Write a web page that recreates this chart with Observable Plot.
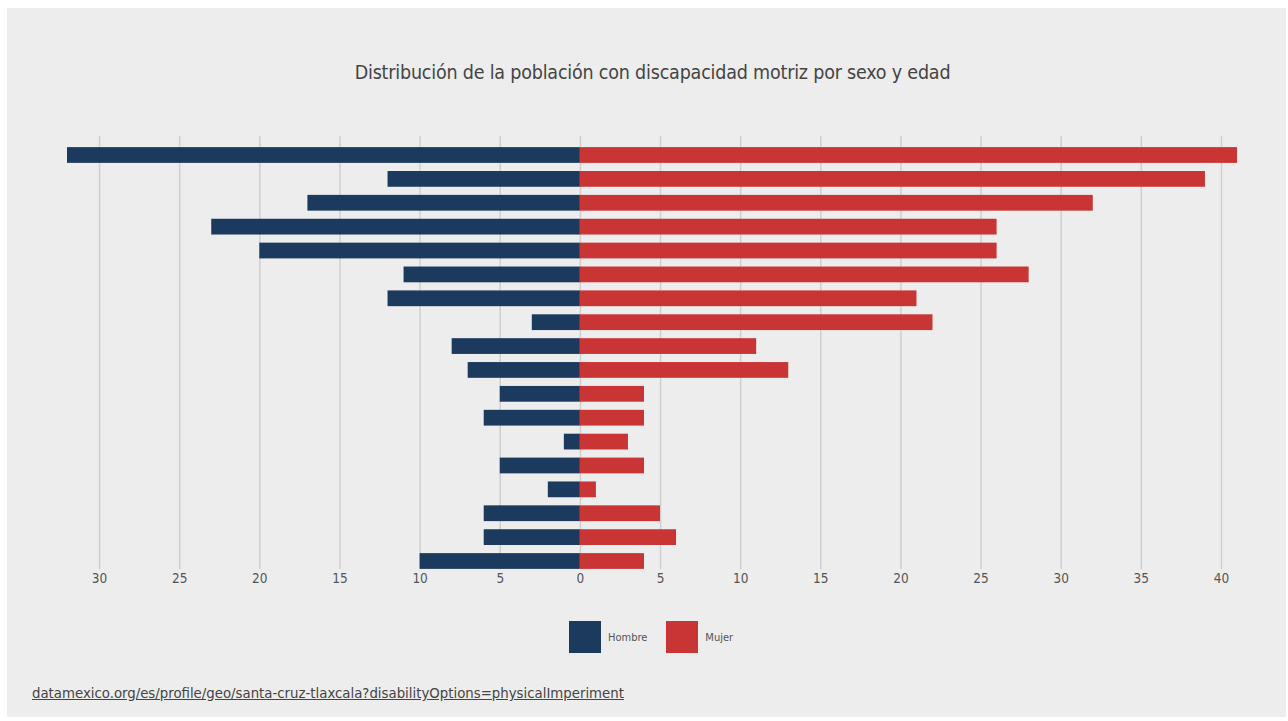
<!DOCTYPE html>
<html>
<head>
<meta charset="utf-8">
<script src="https://cdn.jsdelivr.net/npm/d3@7"></script>
<script src="https://cdn.jsdelivr.net/npm/@observablehq/plot@0.6"></script>
<style>
  html, body { margin: 0; padding: 0; background: #ffffff; }
  body { width: 1288px; height: 721px; position: relative; overflow: hidden; font-family: "DejaVu Sans Condensed", "Liberation Sans Narrow", sans-serif; }
  #panel { position: absolute; left: 7px; top: 8px; width: 1279px; height: 709px; background: #ededed; }
  #title { position: absolute; left: 0; top: 61px; width: 1305px; text-align: center; font-size: 19.5px; color: #444; letter-spacing: -0.2px; }
  #chart { position: absolute; left: 0; top: 120px; }
  #legend { position: absolute; top: 621px; left: 569px; height: 32px; display: flex; align-items: center; font-size: 11px; color: #555; }
  .sw { width: 32px; height: 32px; display: inline-block; }
  .lab { margin-left: 7px; margin-right: 19px; }
  #source { position: absolute; left: 32px; top: 684px; font-size: 14.8px; color: #444; text-decoration: underline; }
</style>
</head>
<body>
<div id="panel"></div>
<div id="title">Distribución de la población con discapacidad motriz por sexo y edad</div>
<div id="chart"></div>
<div id="legend">
  <span class="sw" style="background:#1c3a5e"></span><span class="lab">Hombre</span>
  <span class="sw" style="background:#c93434"></span><span class="lab">Mujer</span>
</div>
<div id="source">datamexico.org/es/profile/geo/santa-cruz-tlaxcala?disabilityOptions=physicalImperiment</div>
<script>
const ageGroups = ["85+", "80-84", "75-79", "70-74", "65-69", "60-64", "55-59", "50-54", "45-49", "40-44", "35-39", "30-34", "25-29", "20-24", "15-19", "10-14", "5-9", "0-4"];
const hombre = [32, 12, 17, 23, 20, 11, 12, 3, 8, 7, 5, 6, 1, 5, 2, 6, 6, 10];
const mujer  = [41, 39, 32, 26, 26, 28, 21, 22, 11, 13, 4, 4, 3, 4, 1, 5, 6, 4];
const sexes = ["Hombre", "Mujer"];
const colors = ["#1c3a5e", "#c93434"];
const xTicks = [-30, -25, -20, -15, -10, -5, 0, 5, 10, 15, 20, 25, 30, 35, 40];

const data = [];
ageGroups.forEach((g, i) => {
  data.push({age: g, sex: "Hombre", value: -hombre[i]});
  data.push({age: g, sex: "Mujer", value: mujer[i]});
});

const chart = Plot.plot({
  width: 1288,
  height: 480,
  marginLeft: 67,
  marginRight: 51,
  marginTop: 19,
  marginBottom: 23,
  style: {background: "transparent", fontFamily: "DejaVu Sans Condensed, Liberation Sans Narrow, sans-serif", fontSize: "13px", color: "#555"},
  x: {domain: [-32, 41], ticks: xTicks, tickFormat: d => Math.abs(d)},
  y: {domain: ageGroups, padding: 0.34, round: false, axis: null},
  color: {domain: sexes, range: colors},
  marks: [
    Plot.gridX(xTicks, {stroke: "#cfcfcf", strokeOpacity: 1, strokeWidth: 1.5, insetTop: -3, insetBottom: 8}),
    Plot.barX(data, {y: "age", x: "value", fill: "sex"}),
    Plot.axisX(xTicks, {tickSize: 0, tickPadding: 0, dy: -4, fontSize: 13.5, tickFormat: d => Math.abs(d), label: null, fill: "#555"})
  ]
});
document.getElementById("chart").appendChild(chart);
</script>
</body>
</html>
